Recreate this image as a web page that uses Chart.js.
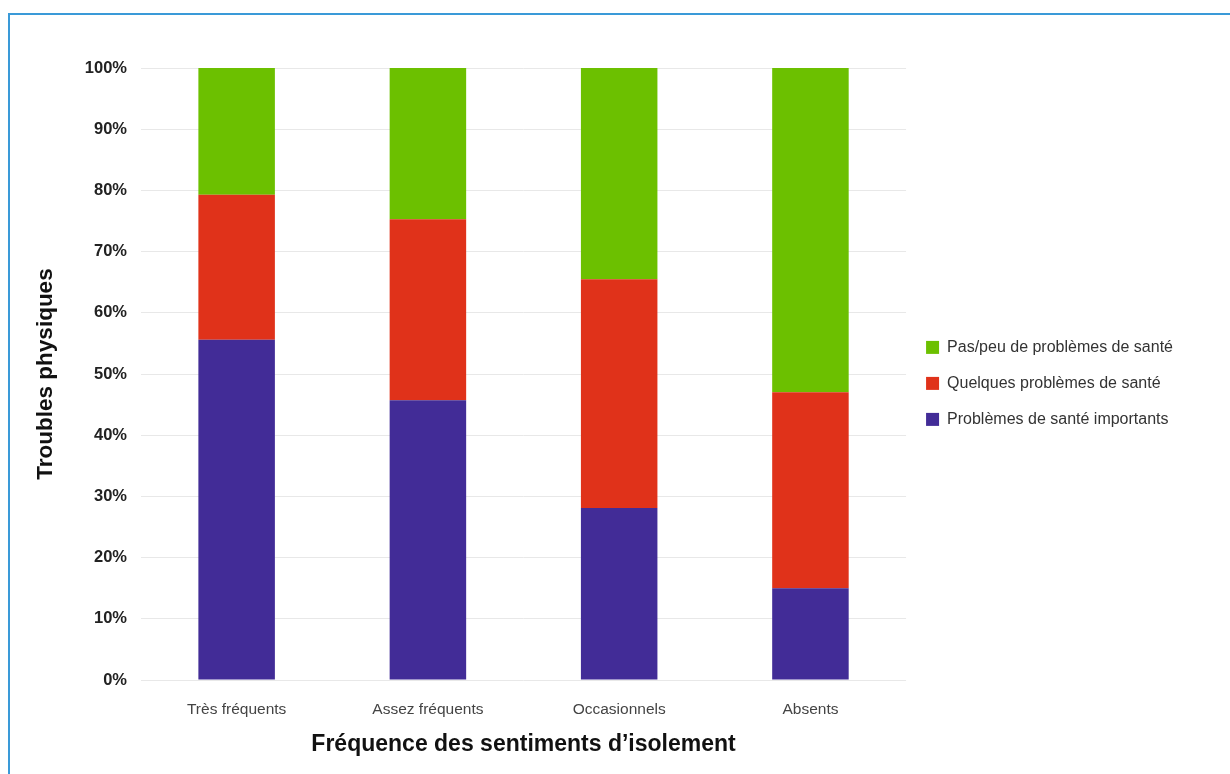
<!DOCTYPE html>
<html>
<head>
<meta charset="utf-8">
<script src="https://cdn.jsdelivr.net/npm/chart.js@4/dist/chart.umd.min.js"></script>
<style>
  body { margin: 0; background: #fff; }
  #wrap { position: relative; width: 1230px; height: 774px; }
  #frame { position: absolute; left: 8px; top: 13px; right: 0; bottom: 0;
           border-top: 2px solid #3a9ad8; border-left: 2px solid #3a9ad8; pointer-events: none; }
</style>
</head>
<body>
<div id="wrap">
  <canvas id="bar" width="1230" height="774"></canvas>
  <div id="frame"></div>
</div>
<script>
// categories and series (percent of each group)
let groups = ["Très fréquents", "Assez fréquents", "Occasionnels", "Absents"];
let important = [55.6, 45.7, 28.1, 15.0];
let quelques = [23.7, 29.6, 37.4, 32.0];
let peu = [20.7, 24.7, 34.5, 53.0];
let yTicks = [0, 10, 20, 30, 40, 50, 60, 70, 80, 90, 100];

let font = "'Liberation Sans', Arial, sans-serif";

new Chart(document.getElementById("bar"), {
  type: 'bar',
  data: {
    labels: groups,
    datasets: [
      { label: "Problèmes de santé importants", data: important, backgroundColor: "#422c97" },
      { label: "Quelques problèmes de santé", data: quelques, backgroundColor: "#e0321a" },
      { label: "Pas/peu de problèmes de santé", data: peu, backgroundColor: "#6cc000" }
    ]
  },
  options: {
    responsive: false,
    animation: false,
    layout: { padding: { top: 68, left: 28, right: 47, bottom: 12 } },
    datasets: { bar: { categoryPercentage: 1, barPercentage: 0.4 } },
    plugins: {
      tooltip: { enabled: false },
      legend: {
        position: 'right',
        align: 'start',
        reverse: true,
        // empty title only pushes the items down to the middle
        title: { display: true, text: '', padding: { top: 237, bottom: 0 } },
        labels: {
          boxWidth: 13, boxHeight: 13, padding: 20, color: "#333",
          font: { family: font, size: 16 }
        }
      }
    },
    scales: {
      x: {
        stacked: true,
        afterFit: function(scale) { scale.height = 82; },
        grid: { display: false, drawTicks: false },
        border: { display: false },
        ticks: { color: "#444", padding: 20, font: { family: font, size: 15.5 } },
        title: { display: true, text: "Fréquence des sentiments d’isolement", color: "#111",
                 padding: { top: 4, bottom: 4 }, font: { family: font, size: 23, weight: 'bold' } }
      },
      y: {
        stacked: true,
        min: 0, max: 100,
        afterFit: function(scale) { scale.width = 113; },
        afterBuildTicks: function(scale) { scale.ticks = yTicks.map(v => ({ value: v })); },
        grid: { color: "#e8e8e8", drawTicks: false },
        border: { display: false },
        ticks: { color: "#222", padding: 14, font: { family: font, size: 16.5, weight: 'bold' },
                 callback: v => v + "%" },
        title: { display: true, text: "Troubles physiques", color: "#111",
                 padding: { top: 4, bottom: 4 }, font: { family: font, size: 22.5, weight: 'bold' } }
      }
    }
  }
});
</script>
</body>
</html>
